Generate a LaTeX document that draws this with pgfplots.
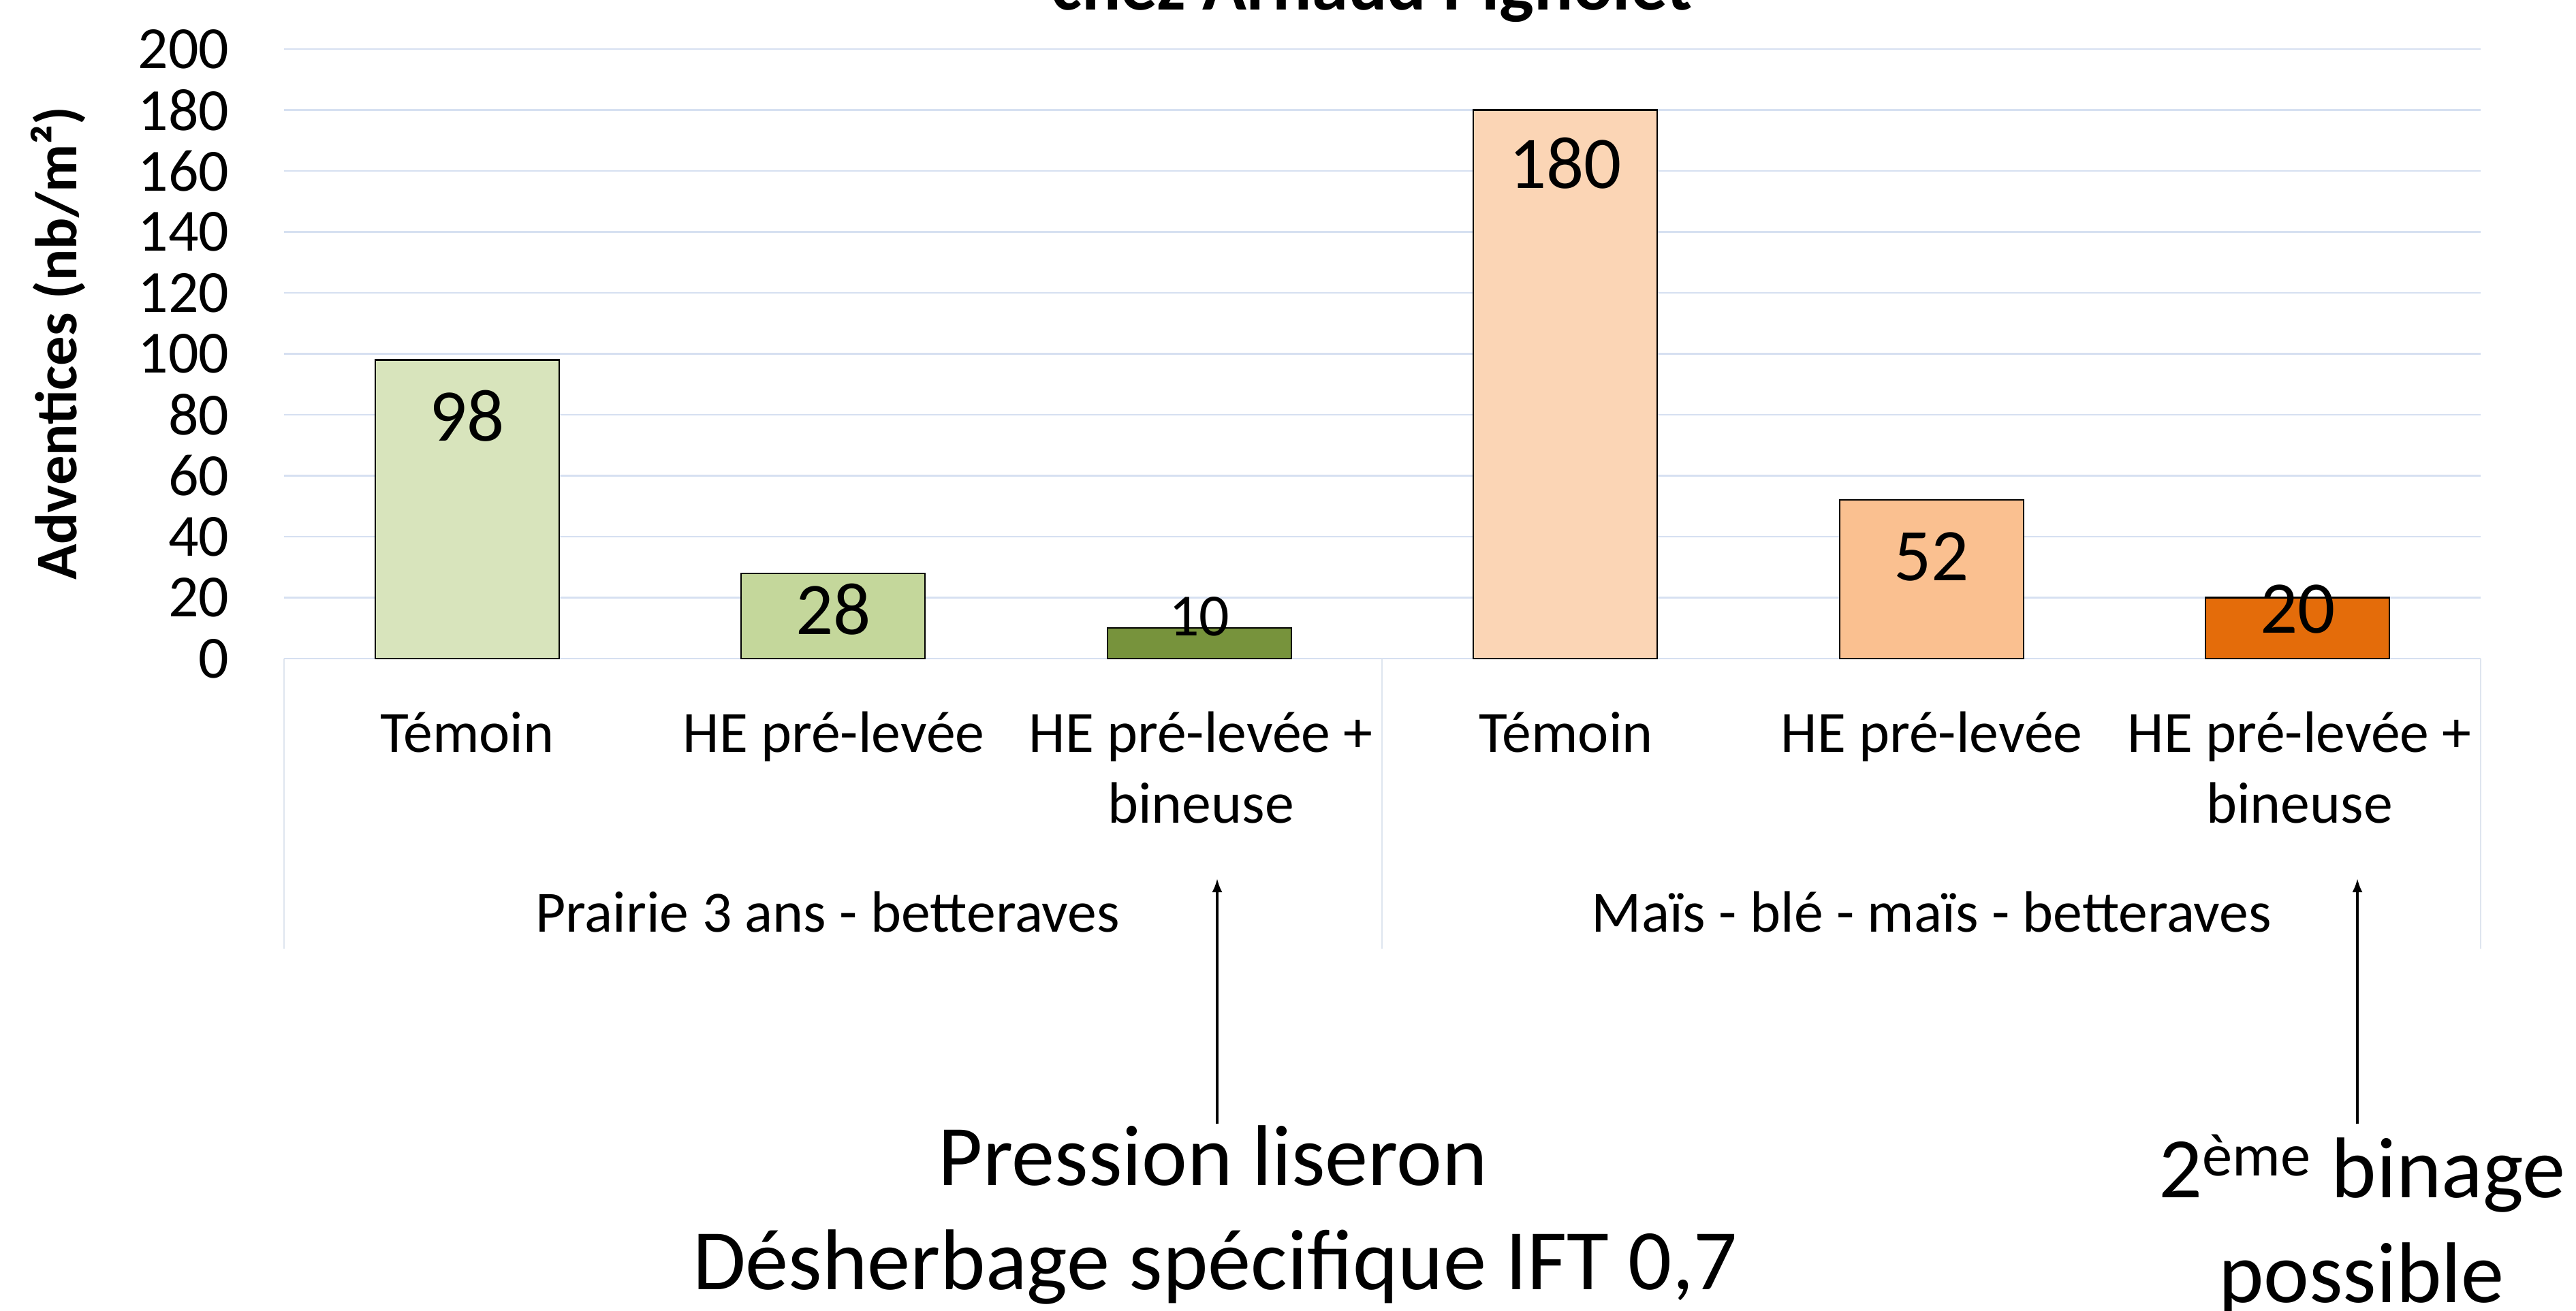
\documentclass[border=0pt]{standalone}
\usepackage{pgfplots}
\pgfplotsset{compat=1.18}
\usepackage{fontspec}
\setmainfont{Carlito}
\usetikzlibrary{arrows.meta}
\definecolor{c1}{HTML}{D8E4BC}
\definecolor{c2}{HTML}{C4D79B}
\definecolor{c3}{HTML}{77933C}
\definecolor{c4}{HTML}{FBD5B5}
\definecolor{c5}{HTML}{FAC090}
\definecolor{c6}{HTML}{E46C0A}
\definecolor{gridc}{HTML}{D6E0F1}
\definecolor{sepc}{HTML}{DEE5EF}
\begin{document}
\begin{tikzpicture}[x=1cm,y=1cm]
\useasboundingbox (0,0) rectangle (37.82,19.24);
\begin{axis}[
  at={(4.17cm,9.57cm)}, anchor=south west,
  width=32.25cm, height=8.95cm, scale only axis,
  ymin=0, ymax=200, xmin=-0.5, xmax=5.5,
  ytick={0,20,...,200}, xtick=\empty,
  axis line style={draw=none},
  major tick length=0pt,
  ymajorgrids, grid style={color=gridc, line width=0.7pt},
  yticklabel style={font=\fontsize{25}{30}\selectfont, inner sep=0pt, xshift=-0.8cm},
  /pgf/number format/assume math mode=true,
  clip=false,
  ybar, bar width=2.7cm, bar shift=0pt,
]
\addplot[ybar, bar shift=0pt, bar width=2.7cm, fill=c1, draw=black, line width=0.6pt] coordinates {(0,98)};
\addplot[ybar, bar shift=0pt, bar width=2.7cm, fill=c2, draw=black, line width=0.6pt] coordinates {(1,28)};
\addplot[ybar, bar shift=0pt, bar width=2.7cm, fill=c3, draw=black, line width=0.6pt] coordinates {(2,10)};
\addplot[ybar, bar shift=0pt, bar width=2.7cm, fill=c4, draw=black, line width=0.6pt] coordinates {(3,180)};
\addplot[ybar, bar shift=0pt, bar width=2.7cm, fill=c5, draw=black, line width=0.6pt] coordinates {(4,52)};
\addplot[ybar, bar shift=0pt, bar width=2.7cm, fill=c6, draw=black, line width=0.6pt] coordinates {(5,20)};
\node[font=\fontsize{31}{36}\selectfont] at (axis cs:0,79.6) {98};
\node[font=\fontsize{31}{36}\selectfont] at (axis cs:1,16.1) {28};
\node[font=\fontsize{25}{30}\selectfont] at (axis cs:2,13.9) {10};
\node[font=\fontsize{31}{36}\selectfont] at (axis cs:3,162.5) {180};
\node[font=\fontsize{31}{36}\selectfont] at (axis cs:4,33.5) {52};
\node[font=\fontsize{31}{36}\selectfont] at (axis cs:5,16.1) {20};
\end{axis}
% title (partly cut)
\node[anchor=base, font=\bfseries\fontsize{30.5}{36}\selectfont] at (20.14,19.09) {chez Arnaud Pignolet};
% y label
\node[rotate=90, font=\bfseries\fontsize{24.6}{30}\selectfont] at (0.85,14.2) {Adventices (nb/m²)};
% separators
\draw[sepc, line width=0.5pt] (4.17,9.57) -- (4.17,5.31);
\draw[sepc, line width=0.5pt] (20.29,9.57) -- (20.29,5.31);
\draw[sepc, line width=0.5pt] (36.42,9.57) -- (36.42,5.31);
% category labels
\begin{scope}[every node/.style={anchor=base, font=\fontsize{24.4}{30}\selectfont, inner sep=0pt}]
\node at (6.86,8.20) {Témoin};
\node at (12.24,8.20) {HE pré-levée};
\node at (17.63,8.20) {HE pré-levée +};
\node at (17.63,7.16) {bineuse};
\node at (22.99,8.20) {Témoin};
\node at (28.36,8.20) {HE pré-levée};
\node at (33.76,8.20) {HE pré-levée +};
\node at (33.76,7.16) {bineuse};
\node at (12.15,5.56) {Prairie 3 ans - betteraves};
\node at (28.36,5.56) {Maïs - blé - maïs - betteraves};
\end{scope}
% arrows
\draw[-{Latex[length=0.2cm,width=0.15cm]}, line width=0.9pt] (17.87,2.74) -- (17.87,6.34);
\draw[-{Latex[length=0.2cm,width=0.15cm]}, line width=0.9pt] (34.61,2.74) -- (34.61,6.34);
% annotations
\begin{scope}[every node/.style={anchor=base, font=\fontsize{36}{42}\selectfont, inner sep=0pt}]
\node at (17.81,1.84) {Pression liseron};
\node at (17.84,0.31) {Désherbage spécifique IFT 0,7};
\node at (34.68,1.66) {2\textsuperscript{ème} binage};
\node at (34.67,0.12) {possible};
\end{scope}
\end{tikzpicture}
\end{document}
